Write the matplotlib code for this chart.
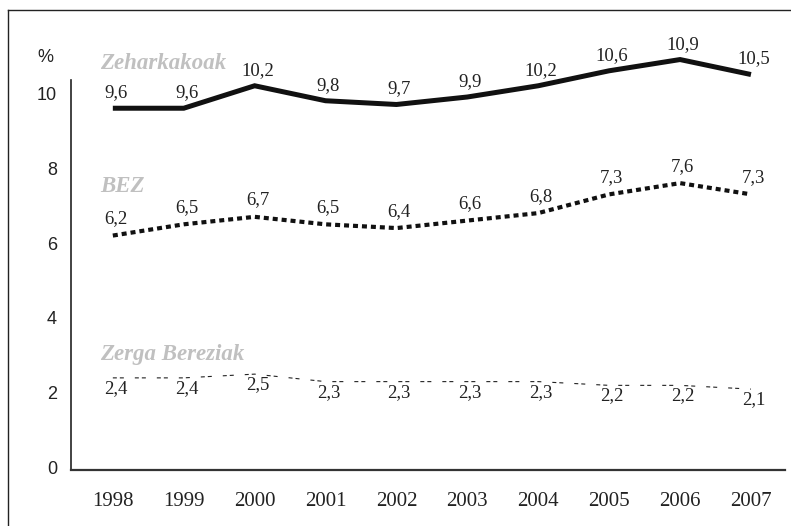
import matplotlib.pyplot as plt
from matplotlib.lines import Line2D

years = [1998, 1999, 2000, 2001, 2002, 2003, 2004, 2005, 2006, 2007]
zeharkakoak = [9.6, 9.6, 10.2, 9.8, 9.7, 9.9, 10.2, 10.6, 10.9, 10.5]
bez = [6.2, 6.5, 6.7, 6.5, 6.4, 6.6, 6.8, 7.3, 7.6, 7.3]
zerga = [2.4, 2.4, 2.5, 2.3, 2.3, 2.3, 2.3, 2.2, 2.2, 2.1]
yticks = [0, 2, 4, 6, 8, 10]

SERIF = 'Liberation Serif'
SANS = 'Liberation Sans'
TXT = '#222222'
GREY = '#c0c0c0'


def fmt(v):
    return ('%.1f' % v).replace('.', ',')


fig = plt.figure(figsize=(7.91, 5.26), dpi=100)
ax = fig.add_axes([71 / 791, 56 / 526, 714 / 791, 449.4 / 526])

ax.plot(years, zeharkakoak, color='#111111', lw=3.6, solid_capstyle='butt',
        solid_joinstyle='miter', clip_on=False)
ax.plot(years, bez, color='#111111', lw=3.0, linestyle=(0, (1.2, 0.95)),
        dash_capstyle='butt', clip_on=False)
ax.plot(years, zerga, color='#222222', lw=0.8, linestyle=(0, (3.6, 2.7, 3.6, 9.9)),
        clip_on=False)

# value labels
for x, v in zip(years, zeharkakoak):
    ax.annotate(fmt(v), (x, v), xytext=(2, 5), textcoords='offset points',
                ha='center', va='bottom', fontsize=13.5, family=SERIF, color=TXT)
for x, v in zip(years, bez):
    ax.annotate(fmt(v), (x, v), xytext=(2, 6), textcoords='offset points',
                ha='center', va='bottom', fontsize=13.5, family=SERIF, color=TXT)
for x, v in zip(years, zerga):
    ax.annotate(fmt(v), (x, v), xytext=(2, -1.5), textcoords='offset points',
                ha='center', va='top', fontsize=13.5, family=SERIF, color=TXT)

# series names
name_style = dict(fontsize=16.5, family=SERIF, fontweight='bold', style='italic',
                  color=GREY, ha='left', va='center')
ax.text(1997.82, 10.8, 'Zeharkakoak', **name_style)
ax.text(1997.82, 7.5, 'BEZ', **name_style)
ax.text(1997.82, 3.03, 'Zerga Bereziak', **name_style)

ax.set_xlim(1997.41, 2007.48)
ax.set_ylim(-0.06, 11.94)
ax.set_xticks(years)
ax.set_xticklabels([str(y) for y in years], family=SERIF, fontsize=15, color=TXT)
ax.set_yticks(yticks)
ax.set_yticklabels([str(t) for t in yticks], family=SANS, fontsize=13, color=TXT)
ax.tick_params(axis='both', length=0)
ax.tick_params(axis='y', pad=10)
ax.tick_params(axis='x', pad=16)

for side in ['top', 'right']:
    ax.spines[side].set_visible(False)
ax.spines['left'].set_bounds(-0.06, 10.35)
ax.spines['left'].set_linewidth(1.2)
ax.spines['bottom'].set_linewidth(1.6)
ax.spines['left'].set_color('#222222')
ax.spines['bottom'].set_color('#333333')

fig.text(45 / 791, 1 - 58 / 526, '%', family=SANS, fontsize=13, color=TXT,
         ha='center', va='center')

# outer frame (left and top edges)
fx = 8 / 791
fy = 1 - 10 / 526
fig.add_artist(Line2D([fx, fx], [0, fy], color='#222222', lw=1.0))
fig.add_artist(Line2D([fx, 1], [fy, fy], color='#222222', lw=1.0))

fig.savefig('out.png', dpi=100)
